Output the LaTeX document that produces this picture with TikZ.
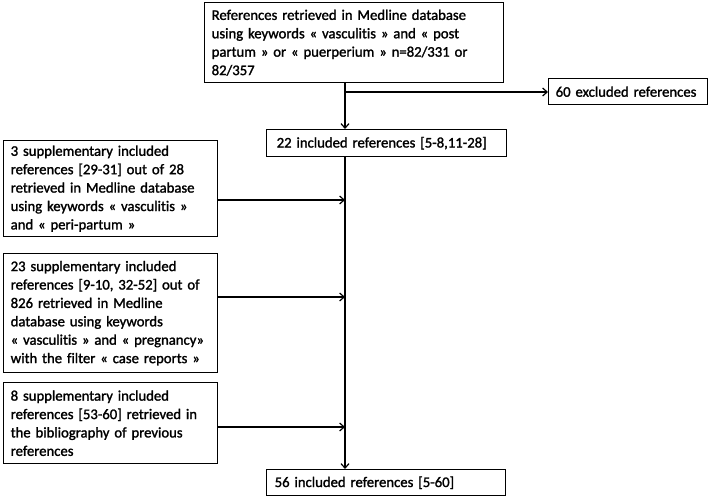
\documentclass[tikz,border=0pt]{standalone}
\usepackage{fontspec}
\setmainfont{Carlito}[Ligatures=NoCommon]
\newfontfamily\heavyfont{Carlito}[Ligatures=NoCommon,FakeBold=1.5]
\usetikzlibrary{arrows.meta}
\newcommand\boxfont{\heavyfont\fontsize{14.7}{18.4}\selectfont}
\tikzset{
  fbox/.style={draw, line width=1.4pt, inner xsep=7pt, inner ysep=0pt,
    align=left, anchor=north west, font=\boxfont},
  arr/.style={line width=1.2pt, -{Straight Barb[length=4.5pt,width=8pt,line width=1.2pt]}}
}
\begin{document}
\begin{tikzpicture}[x=1pt,y=-1pt]
\useasboundingbox (0,0) rectangle (708,497);
\node[fbox, text width=285pt, minimum height=80pt] (top) at (204,2)
  {References retrieved in Medline database\\
   using keywords « vasculitis » and « post\\
   partum » or « puerperium » n=82/331 or\\
   82/357};
\node[fbox, text width=145pt, minimum height=26pt] (excl) at (548,78)
  {60 excluded references};
\node[fbox, inner xsep=10pt, text width=220pt, minimum height=27pt] (inc22) at (266,129)
  {22 included references [5-8,11-28]};
\node[fbox, text width=200pt, minimum height=96pt] (b1) at (3,140)
  {3 supplementary included\\
   references [29-31] out of 28\\
   retrieved in Medline database\\
   using keywords « vasculitis »\\
   and « peri-partum »};
\node[fbox, text width=200pt, minimum height=119pt] (b2) at (3,253)
  {23 supplementary included\\
   references [9-10, 32-52] out of\\
   826 retrieved in Medline\\
   database using keywords\\
   « vasculitis » and « pregnancy»\\
   with the filter « case reports »};
\node[fbox, text width=200pt, minimum height=81pt] (b3) at (3,382)
  {8 supplementary included\\
   references [53-60] retrieved in\\
   the bibliography of previous\\
   references};
\node[fbox, inner xsep=8pt, text width=223pt, minimum height=26pt] (inc56) at (266,469)
  {56 included references [5-60]};
\coordinate (tx) at (345,0);
\coordinate (br) at (345,92);
\coordinate (j1) at (345,200);
\coordinate (j2) at (345,297);
\coordinate (j3) at (345,427);
\draw[arr] (top.south -| tx) -- (inc22.north -| tx);
\draw[arr] (br) -- (br -| excl.west);
\draw[arr] (inc22.south -| tx) -- (inc56.north -| tx);
\draw[arr] (j1 -| b1.east) -- (j1);
\draw[arr] (j2 -| b2.east) -- (j2);
\draw[arr] (j3 -| b3.east) -- (j3);
\end{tikzpicture}
\end{document}
